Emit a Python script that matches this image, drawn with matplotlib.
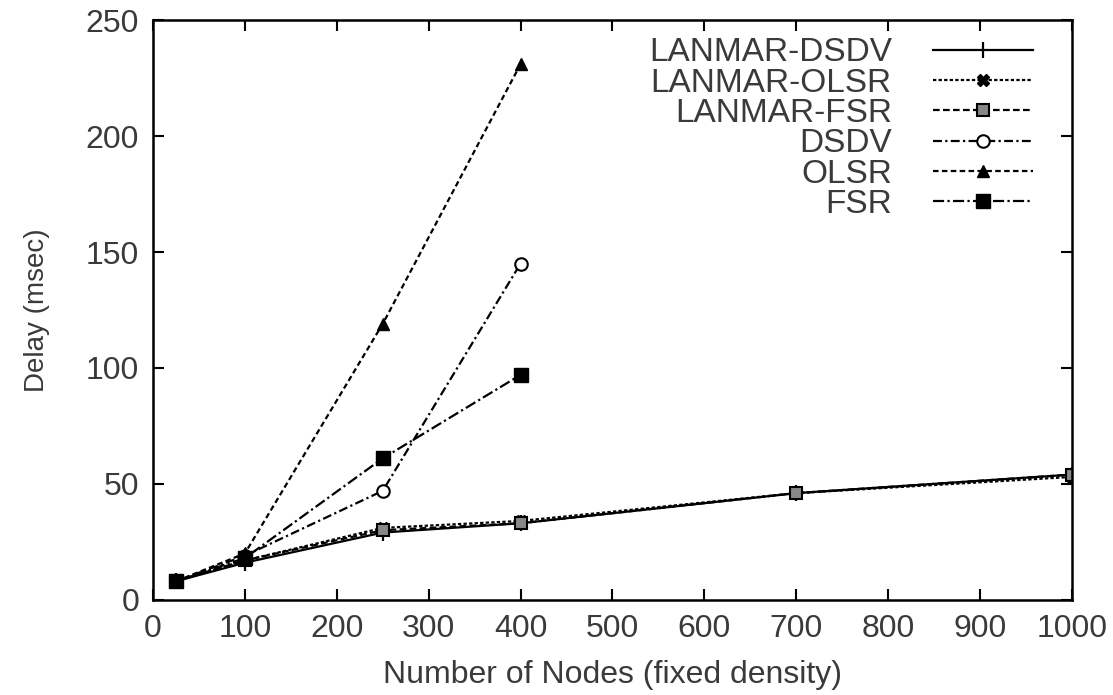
import matplotlib
matplotlib.use("Agg")
import matplotlib.pyplot as plt

plt.rcParams['font.family'] = ['Liberation Sans', 'DejaVu Sans']

nodes_full = [25, 100, 250, 400, 700, 1000]
nodes_short = [25, 100, 250, 400]

lanmar_dsdv = [8, 16, 29, 33, 46, 54]
lanmar_olsr = [8, 17, 31, 34, 46, 53]
lanmar_fsr = [8, 17, 30, 33, 46, 54]
dsdv = [8, 19, 47, 145]
olsr = [8, 20, 119, 231]
fsr = [8, 18, 61, 97]

x_ticks = [0, 100, 200, 300, 400, 500, 600, 700, 800, 900, 1000]
y_ticks = [0, 50, 100, 150, 200, 250]

TXT = '#3a3a3a'

fig = plt.figure(figsize=(11.13, 6.95), dpi=100)
ax = fig.add_axes([0.1375, 0.137, 0.8255, 0.834])

lw = 1.6
ax.plot(nodes_full, lanmar_dsdv, color='black', lw=lw, ls='-', marker='|', ms=12, mew=1.6,
        label='LANMAR-DSDV')
ax.plot(nodes_full, lanmar_olsr, color='black', lw=lw, ls=(0, (1.5, 1)), marker='X', ms=9,
        label='LANMAR-OLSR')
ax.plot(nodes_full, lanmar_fsr, color='black', lw=lw, ls=(0, (3, 1.5)), marker='s', ms=9,
        mfc='#888888', mew=1.5, label='LANMAR-FSR')
ax.plot(nodes_short, dsdv, color='black', lw=lw, ls=(0, (4, 1.5, 1, 1.5)), marker='o', ms=9,
        mfc='white', mew=1.5, label='DSDV')
ax.plot(nodes_short, olsr, color='black', lw=lw, ls=(0, (2.5, 1.5)), marker='^', ms=9,
        label='OLSR')
ax.plot(nodes_short, fsr, color='black', lw=lw, ls=(0, (5, 1.5, 1, 1.5)), marker='s', ms=10,
        label='FSR')

ax.set_xlim(0, 1000)
ax.set_ylim(0, 250)
ax.set_xticks(x_ticks)
ax.set_yticks(y_ticks)
ax.tick_params(direction='in', length=8, width=1.5, top=True, right=True,
               labelsize=23, labelcolor=TXT, pad=10)
for s in ax.spines.values():
    s.set_linewidth(1.8)

ax.set_xlabel('Number of Nodes (fixed density)', fontsize=23, color=TXT, labelpad=12)
ax.set_ylabel('Delay (msec)', fontsize=20, color=TXT, labelpad=26)

leg = ax.legend(loc='upper right', bbox_to_anchor=(0.98, 1.005), frameon=False,
                markerfirst=False, fontsize=24, handlelength=3.0, handletextpad=1.25,
                labelspacing=-0.02, borderaxespad=0.2)
for t in leg.get_texts():
    t.set_color(TXT)
try:
    col = leg._legend_box.get_children()[1].get_children()[0]
    col.align = 'right'
except Exception:
    pass

fig.savefig('out.png', dpi=100)
